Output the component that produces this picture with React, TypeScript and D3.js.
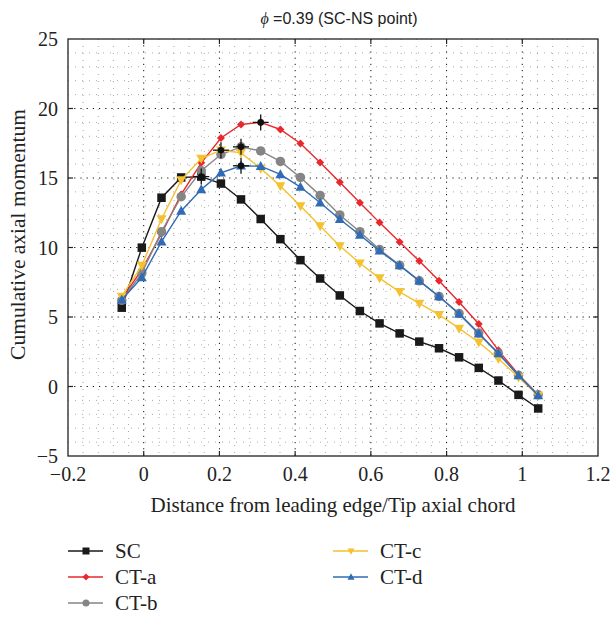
import React from "react";
import * as d3 from "d3";

const xPositions = [-0.058, -0.005, 0.047, 0.099, 0.152, 0.204, 0.257, 0.309, 0.361, 0.414, 0.466, 0.518, 0.571, 0.623, 0.676, 0.728, 0.78, 0.833, 0.885, 0.937, 0.99, 1.042];
const scValues = [5.67, 9.99, 13.58, 15.04, 15.1, 14.6, 13.46, 12.05, 10.6, 9.09, 7.77, 6.55, 5.43, 4.54, 3.82, 3.23, 2.75, 2.1, 1.34, 0.43, -0.6, -1.58];
const ctaValues = [6.3, 8.4, 11.0, 13.82, 16.09, 17.88, 18.85, 19.0, 18.49, 17.48, 16.12, 14.7, 13.22, 11.79, 10.4, 9.02, 7.6, 6.08, 4.5, 2.6, 0.86, -0.6];
const ctbValues = [6.2, 8.16, 11.14, 13.65, 15.52, 16.69, 17.24, 16.95, 16.19, 15.04, 13.75, 12.34, 11.14, 9.85, 8.73, 7.6, 6.48, 5.26, 3.85, 2.37, 0.81, -0.6];
const ctcValues = [6.48, 8.7, 12.05, 14.85, 16.4, 17.0, 16.81, 15.69, 14.42, 12.98, 11.55, 10.11, 8.87, 7.8, 6.81, 5.98, 5.17, 4.18, 3.18, 1.99, 0.67, -0.65];
const ctdValues = [6.24, 7.84, 10.42, 12.63, 14.18, 15.37, 15.88, 15.85, 15.26, 14.35, 13.22, 12.03, 10.9, 9.76, 8.7, 7.6, 6.48, 5.22, 3.8, 2.37, 0.79, -0.65];

const seriesNames = ["SC", "CT-a", "CT-b", "CT-c", "CT-d"];
const seriesColors = ["#1a1a1a", "#e8282c", "#858585", "#f4c130", "#2f6bb6"];
const seriesMarkers = ["square", "diamond", "circle", "triDown", "triUp"];

const xTicks = [-0.2, 0, 0.2, 0.4, 0.6, 0.8, 1, 1.2];
const yTicks = [-5, 0, 5, 10, 15, 20, 25];
const xMinor = [-0.16, -0.12, -0.08, -0.04, 0.04, 0.08, 0.12, 0.16, 0.24, 0.28, 0.32, 0.36, 0.44, 0.48, 0.52, 0.56, 0.64, 0.68, 0.72, 0.76, 0.84, 0.88, 0.92, 0.96, 1.04, 1.08, 1.12, 1.16];
const yMinor = [-4, -3, -2, -1, 1, 2, 3, 4, 6, 7, 8, 9, 11, 12, 13, 14, 16, 17, 18, 19, 21, 22, 23, 24];

const W = 611, H = 618;
const L = 68, R = 598, T = 39, B = 456;
const SERIF = "'Liberation Serif', serif";
const SANS = "'Liberation Sans', 'DejaVu Sans', sans-serif";

function fmt(v: number) {
  return d3.format("")(v).replace("-", "\u2212");
}

function Marker({ type, x, y, color, s }: { type: string; x: number; y: number; color: string; s: number }) {
  if (type === "square") {
    return <rect x={x - s / 2} y={y - s / 2} width={s} height={s} fill={color} />;
  }
  if (type === "diamond") {
    const h = s / 2;
    return <path d={`M${x},${y - h}L${x + h},${y}L${x},${y + h}L${x - h},${y}Z`} fill={color} />;
  }
  if (type === "circle") {
    return <circle cx={x} cy={y} r={s / 2} fill={color} />;
  }
  const h = s / 2;
  if (type === "triUp") {
    return <path d={`M${x},${y - h * 1.05}L${x + h},${y + h * 0.75}L${x - h},${y + h * 0.75}Z`} fill={color} />;
  }
  return <path d={`M${x},${y + h * 1.05}L${x + h},${y - h * 0.75}L${x - h},${y - h * 0.75}Z`} fill={color} />;
}

export default function App() {
  const x = d3.scaleLinear().domain([-0.2, 1.2]).range([L, R]);
  const y = d3.scaleLinear().domain([-5, 25]).range([B, T]);
  const allValues = [scValues, ctaValues, ctbValues, ctcValues, ctdValues];
  const line = d3
    .line<number>()
    .x((_, i) => x(xPositions[i]))
    .y((d) => y(d));
  const markerSize = [8.5, 8, 9.5, 10, 10];

  return (
    <svg width={W} height={H} style={{ position: "absolute", left: 0, top: 0, background: "#fff" }}>
      {/* grid */}
      <g>
        {xMinor.map((v) => (
          <line key={"xm" + v} x1={x(v)} x2={x(v)} y1={T} y2={B} stroke="#a8a8a8" strokeWidth={1} strokeDasharray="1 6" />
        ))}
        {yMinor.map((v) => (
          <line key={"ym" + v} x1={L} x2={R} y1={y(v)} y2={y(v)} stroke="#a8a8a8" strokeWidth={1} strokeDasharray="1 6" />
        ))}
        {xTicks.slice(1, -1).map((v) => (
          <line key={"xM" + v} x1={x(v)} x2={x(v)} y1={T} y2={B} stroke="#111" strokeWidth={1} strokeDasharray="1.2 5" />
        ))}
        {yTicks.slice(1, -1).map((v) => (
          <line key={"yM" + v} x1={L} x2={R} y1={y(v)} y2={y(v)} stroke="#111" strokeWidth={1} strokeDasharray="1.2 5" />
        ))}
      </g>
      {/* series */}
      {allValues.map((vals, si) => (
        <g key={seriesNames[si]}>
          <path d={line(vals) || ""} fill="none" stroke={seriesColors[si]} strokeWidth={1.4} />
          {vals.map((v, i) => (
            <Marker key={i} type={seriesMarkers[si]} x={x(xPositions[i])} y={y(v)} color={seriesColors[si]} s={markerSize[si]} />
          ))}
        </g>
      ))}
      {/* peak markers */}
      {allValues.map((vals, si) => {
        const i = d3.maxIndex(vals);
        const cx = x(xPositions[i]);
        const cy = y(vals[i]);
        return (
          <g key={"pk" + si}>
            <circle cx={cx} cy={cy} r={3.3} fill="#111" />
            <line x1={cx - 8} x2={cx + 8} y1={cy} y2={cy} stroke="#111" strokeWidth={1.3} />
            <line x1={cx} x2={cx} y1={cy - 8} y2={cy + 8} stroke="#111" strokeWidth={1.3} />
          </g>
        );
      })}
      {/* frame */}
      <rect x={L} y={T} width={R - L} height={B - T} fill="none" stroke="#222" strokeWidth={1.3} />
      {/* ticks */}
      {xTicks.slice(1, -1).map((v) => (
        <g key={"xt" + v}>
          <line x1={x(v)} x2={x(v)} y1={B} y2={B - 5} stroke="#222" strokeWidth={1.2} />
          <line x1={x(v)} x2={x(v)} y1={T} y2={T + 5} stroke="#222" strokeWidth={1.2} />
        </g>
      ))}
      {yTicks.slice(1, -1).map((v) => (
        <g key={"yt" + v}>
          <line x1={L} x2={L + 5} y1={y(v)} y2={y(v)} stroke="#222" strokeWidth={1.2} />
          <line x1={R} x2={R - 5} y1={y(v)} y2={y(v)} stroke="#222" strokeWidth={1.2} />
        </g>
      ))}
      {/* tick labels */}
      {xTicks.map((v) => (
        <text key={"xl" + v} x={x(v)} y={481} fontSize={20} fontFamily={SERIF} textAnchor="middle" fill="#222">
          {fmt(v)}
        </text>
      ))}
      {yTicks.map((v) => (
        <text key={"yl" + v} x={58} y={y(v) + 7} fontSize={20} fontFamily={SERIF} textAnchor="end" fill="#222">
          {fmt(v)}
        </text>
      ))}
      {/* axis titles */}
      <text x={(L + R) / 2} y={512} fontSize={21} fontFamily={SERIF} textAnchor="middle" fill="#222">
        Distance from leading edge/Tip axial chord
      </text>
      <text transform={`translate(25,${(T + B) / 2 - 13}) rotate(-90)`} fontSize={21.5} fontFamily={SERIF} textAnchor="middle" fill="#222">
        Cumulative axial momentum
      </text>
      <text x={(L + R) / 2 + 6} y={24} fontSize={16} fontFamily={SANS} textAnchor="middle" fill="#222">
        <tspan fontStyle="italic" fontFamily={SERIF}>ϕ</tspan> =0.39 (SC-NS point)
      </text>
      {/* legend */}
      {seriesNames.map((name, si) => {
        const col = si < 3 ? 0 : 1;
        const row = si < 3 ? si : si - 3;
        const lx = col === 0 ? 68 : 333;
        const ly = 551 + row * 26;
        return (
          <g key={"lg" + si}>
            <line x1={lx} x2={lx + 35} y1={ly} y2={ly} stroke={seriesColors[si]} strokeWidth={1.4} />
            <Marker type={seriesMarkers[si]} x={lx + 18} y={ly} color={seriesColors[si]} s={7} />
            <text x={lx + 47} y={ly + 7} fontSize={21} fontFamily={SERIF} fill="#222">
              {name}
            </text>
          </g>
        );
      })}
    </svg>
  );
}
